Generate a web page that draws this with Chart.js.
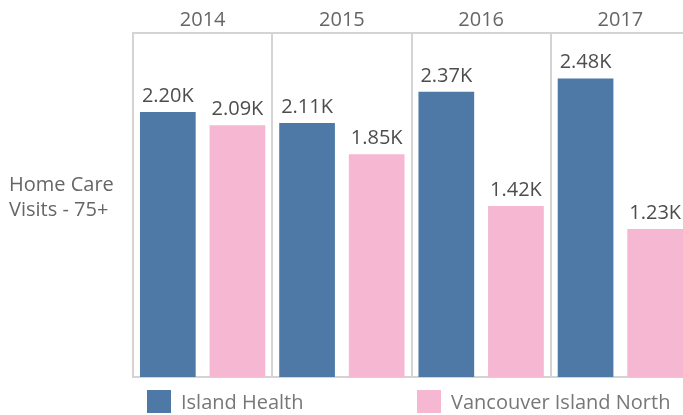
<!DOCTYPE html>
<html>
<head>
<meta charset="utf-8">
<script src="https://cdn.jsdelivr.net/npm/chart.js@4"></script>
<style>
  html, body { margin: 0; padding: 0; background: #fff; overflow: hidden; }
  #wrap { width: 690px; height: 415px; position: relative; }
</style>
</head>
<body>
<div id="wrap"><canvas id="home-care"></canvas></div>
<script>
// data
var years = ["2014", "2015", "2016", "2017"];
var islandHealth = [2200, 2110, 2370, 2480];
var vanIslandNorth = [2090, 1850, 1420, 1230];
var seriesNames = ["Island Health", "Vancouver Island North"];
var rowHeader = ["Home Care", "Visits - 75+"];

var FONT = "'Open Sans', 'DejaVu Sans', sans-serif";
var lineGrey = "#d4d4d4";

function fmtK(v) {
    return (v / 1000).toFixed(2) + "K";
}

// value labels above each bar
var barLabels = {
    id: "barLabels",
    afterDatasetsDraw: function (chart) {
        var ctx = chart.ctx;
        ctx.save();
        ctx.font = "20px " + FONT;
        ctx.fillStyle = "#4d4d4d";
        ctx.textAlign = "center";
        ctx.textBaseline = "alphabetic";
        chart.data.datasets.forEach(function (ds, i) {
            chart.getDatasetMeta(i).data.forEach(function (bar, j) {
                ctx.fillText(fmtK(ds.data[j]), bar.x, bar.y - 10);
            });
        });
        ctx.restore();
    }
};

// row header on the left + legend at the bottom (tableau style)
var sideBits = {
    id: "sideBits",
    afterDraw: function (chart) {
        var ctx = chart.ctx;
        var area = chart.chartArea;
        ctx.save();
        ctx.font = "20px " + FONT;
        ctx.fillStyle = "#666";
        ctx.textAlign = "left";
        ctx.textBaseline = "alphabetic";
        ctx.fillText(rowHeader[0], 9, 191);
        ctx.fillText(rowHeader[1], 9, 216);

        var offsets = [14, 284];
        chart.data.datasets.forEach(function (ds, i) {
            var x = area.left + offsets[i];
            ctx.fillStyle = ds.backgroundColor;
            ctx.fillRect(x, 390, 24, 23);
            ctx.fillStyle = "#777";
            ctx.fillText(ds.label, x + 34, 409);
        });
        ctx.restore();
    }
};

var ctx = document.getElementById("home-care");
new Chart(ctx, {
    type: "bar",
    data: {
        labels: years,
        datasets: [
            {
                label: seriesNames[0],
                data: islandHealth,
                backgroundColor: "#4E79A7",
                categoryPercentage: 1,
                barPercentage: 0.8
            },
            {
                label: seriesNames[1],
                data: vanIslandNorth,
                backgroundColor: "#F5B7D2",
                categoryPercentage: 1,
                barPercentage: 0.8
            }
        ]
    },
    options: {
        responsive: true,
        maintainAspectRatio: false,
        animation: false,
        layout: { padding: { left: 133, right: 0, top: 0, bottom: 38 } },
        plugins: {
            legend: { display: false },
            tooltip: { enabled: false }
        },
        scales: {
            x: {
                position: "top",
                offset: true,
                grid: { offset: true, color: lineGrey, lineWidth: 2, drawTicks: false },
                border: { display: true, color: lineGrey, width: 2 },
                ticks: { color: "#666", font: { family: FONT, size: 20 }, padding: 1 },
                afterFit: function (s) { s.height = 33; }
            },
            x2: {
                type: "category",
                labels: years,
                position: "bottom",
                grid: { display: false, drawTicks: false },
                border: { display: true, color: lineGrey, width: 2 },
                ticks: { display: false },
                afterFit: function (s) { s.height = 0; }
            },
            y: {
                display: false,
                min: 0,
                max: 2857
            }
        }
    },
    plugins: [barLabels, sideBits]
});
</script>
</body>
</html>
